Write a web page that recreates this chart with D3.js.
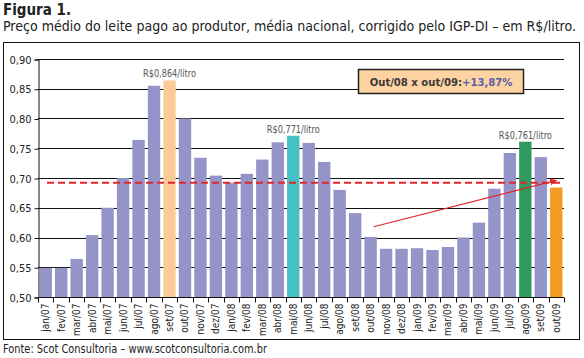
<!DOCTYPE html>
<html><head><meta charset="utf-8">
<script src="https://cdn.jsdelivr.net/npm/d3@7"></script>
<style>
html,body{margin:0;padding:0;background:#fff;}
svg{display:block;}
text{font-family:"Liberation Sans Narrow","DejaVu Sans Condensed","Open Sans",sans-serif;}
</style></head>
<body>
<svg id="c" width="584" height="358"></svg>
<script>
const categories = ["jan/07","fev/07","mar/07","abr/07","mai/07","jun/07","jul/07","ago/07","set/07","out/07","nov/07","dez/07",
  "jan/08","fev/08","mar/08","abr/08","mai/08","jun/08","jul/08","ago/08","set/08","out/08","nov/08","dez/08",
  "jan/09","fev/09","mar/09","abr/09","mai/09","jun/09","jul/09","ago/09","set/09","out/09"];
const prices = [0.549,0.549,0.564,0.604,0.650,0.700,0.764,0.855,0.864,0.800,0.734,0.704,
  0.692,0.707,0.731,0.760,0.771,0.759,0.727,0.680,0.641,0.601,0.581,0.581,
  0.582,0.579,0.584,0.600,0.625,0.682,0.742,0.761,0.735,0.684];
const yTicks = [0.50,0.55,0.60,0.65,0.70,0.75,0.80,0.85,0.90];
const averageLine = 0.692;
const peakLabels = [
  {cat:"set/07", text:"R$0,864/litro"},
  {cat:"mai/08", text:"R$0,771/litro"},
  {cat:"ago/09", text:"R$0,761/litro"}
];
const highlight = {"set/07":"#FBCB97","mai/08":"#46C0C2","ago/09":"#2F9A60","out/09":"#F39B22"};
const trendArrow = {from:{cat:"out/08", v:0.618}, to:{cat:"out/09", v:0.696}};
const titleText = "Figura 1.";
const subtitleText = "Preço médio do leite pago ao produtor, média nacional, corrigido pelo IGP-DI – em R$/litro.";
const sourceText = "Fonte: Scot Consultoria – www.scotconsultoria.com.br";
const boxLabel = "Out/08 x out/09:";
const boxValue = "+13,87%";

const svg = d3.select("#c");
const L = 38, R = 564, T = 59, B = 297;
const x = d3.scaleBand().domain(categories).range([L, R]).paddingInner(0.2).paddingOuter(0.1);
const y = d3.scaleLinear().domain([0.5, 0.9]).range([B, T]);

// title
svg.append("text").attr("x",3).attr("y",15).attr("font-size",15).attr("font-weight","bold").attr("fill","#222").text(titleText);
svg.append("text").attr("x",3).attr("y",31).attr("font-size",14).attr("fill","#222")
  .attr("textLength",573).attr("lengthAdjust","spacingAndGlyphs").text(subtitleText);

// outer box
svg.append("rect").attr("x",3.5).attr("y",42.5).attr("width",576).attr("height",297).attr("fill","none").attr("stroke","#111").attr("stroke-width",1);

// gridlines
svg.append("g").selectAll("line").data(yTicks).join("line")
  .attr("x1",L).attr("x2",R).attr("y1",d=>Math.round(y(d))+0.5).attr("y2",d=>Math.round(y(d))+0.5)
  .attr("stroke","#111").attr("stroke-width",1);

// y axis
const yAxis = d3.axisLeft(y).tickValues(yTicks).tickSize(4).tickPadding(3)
  .tickFormat(d=>d3.format(".2f")(d).replace(".",","));
const gy = svg.append("g").attr("transform",`translate(${L+0.5},0.5)`).call(yAxis);
gy.select(".domain").attr("stroke","#111");
gy.selectAll(".tick line").attr("stroke","#111");
gy.selectAll("text").attr("font-size",11).attr("fill","#222")
  .style("font-family",'"Liberation Sans Narrow","DejaVu Sans Condensed",sans-serif');

// bars
svg.append("g").selectAll("rect").data(categories).join("rect")
  .attr("x",d=>x(d)).attr("width",x.bandwidth())
  .attr("y",(d,i)=>y(prices[i])).attr("height",(d,i)=>B-y(prices[i]))
  .attr("fill",d=>highlight[d]||"#9494C9");

// x axis with ticks between categories
const gx = svg.append("g").attr("transform",`translate(0,${B+0.5})`);
gx.append("line").attr("x1",L).attr("x2",R).attr("stroke","#111");
const bounds = d3.range(categories.length+1).map(i=>L + i*(R-L)/categories.length);
gx.selectAll("line.t").data(bounds).join("line").attr("class","t")
  .attr("x1",d=>Math.round(d)+0.5).attr("x2",d=>Math.round(d)+0.5).attr("y1",0).attr("y2",5).attr("stroke","#111");
gx.selectAll("text").data(categories).join("text")
  .attr("transform",d=>`translate(${x(d)+x.bandwidth()/2+3.5},6) rotate(-90)`)
  .attr("text-anchor","end").attr("font-size",10).attr("fill","#222").text(d=>d);

// average dashed line
svg.append("line").attr("x1",47).attr("x2",562).attr("y1",y(averageLine)).attr("y2",y(averageLine))
  .attr("stroke","#E0262A").attr("stroke-width",2).attr("stroke-dasharray","7,4");

// trend arrow
svg.append("defs").append("marker").attr("id","ah").attr("viewBox","0 0 10 10").attr("refX",9).attr("refY",5)
  .attr("markerWidth",7).attr("markerHeight",7).attr("markerUnits","userSpaceOnUse").attr("orient","auto")
  .append("path").attr("d","M0,0L10,5L0,10z").attr("fill","#E0262A");
const ax1 = x(trendArrow.from.cat)+x.bandwidth()/2+3, ay1 = y(trendArrow.from.v);
const ax2 = x(trendArrow.to.cat)+x.bandwidth()/2, ay2 = y(trendArrow.to.v);
svg.append("line").attr("x1",ax1).attr("y1",ay1).attr("x2",ax2).attr("y2",ay2)
  .attr("stroke","#E0262A").attr("stroke-width",1.2).attr("marker-end","url(#ah)");

// peak labels
svg.append("g").selectAll("text").data(peakLabels).join("text")
  .attr("x",d=>x(d.cat)+x.bandwidth()/2)
  .attr("y",d=>y(prices[categories.indexOf(d.cat)])-3)
  .attr("text-anchor","middle").attr("font-size",10).attr("fill","#555")
  .attr("textLength",53).attr("lengthAdjust","spacingAndGlyphs").text(d=>d.text);

// annotation box
svg.append("rect").attr("x",358.5).attr("y",69.5).attr("width",165).attr("height",24)
  .attr("fill","#FDD3A2").attr("stroke","#222").attr("stroke-width",1.5);
const bt = svg.append("text").attr("x",441).attr("y",86).attr("text-anchor","middle")
  .attr("font-size",11.2).attr("font-weight","bold");
bt.append("tspan").attr("fill","#3a3a3a").text(boxLabel);
bt.append("tspan").attr("fill","#5B5EA8").text(boxValue);

// source
svg.append("text").attr("x",3).attr("y",353).attr("font-size",12).attr("fill","#222")
  .attr("textLength",264).attr("lengthAdjust","spacingAndGlyphs").text(sourceText);
</script>
</body></html>
